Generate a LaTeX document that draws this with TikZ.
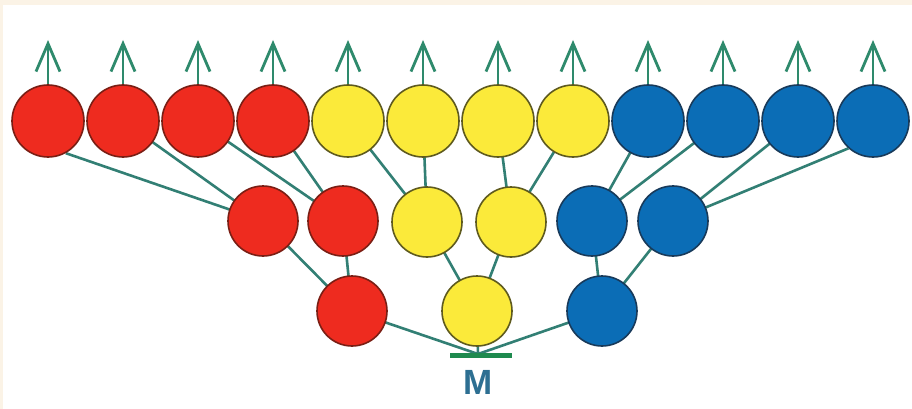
\documentclass[tikz,border=0pt]{standalone}
\usepackage{fontspec}
\setmainfont{Liberation Sans}
\usetikzlibrary{arrows.meta,backgrounds}
\definecolor{cream}{HTML}{FBF3E6}
\definecolor{cred}{HTML}{EE2B1F}
\definecolor{credd}{HTML}{7A1E14}
\definecolor{cyel}{HTML}{FBEA3A}
\definecolor{cyeld}{HTML}{5E5A1E}
\definecolor{cblu}{HTML}{0B6DB6}
\definecolor{cblud}{HTML}{183A5A}
\definecolor{cline}{HTML}{327F74}
\definecolor{carrow}{HTML}{2E8A6C}
\definecolor{cbar}{HTML}{1E8A4E}
\definecolor{cM}{HTML}{2D6F92}
\begin{document}
\begin{tikzpicture}[x=1pt,y=-1pt,
  ball/.style={circle,inner sep=0pt,line width=1.6pt},
  big/.style={minimum size=72pt},
  small/.style={minimum size=70pt},
  redb/.style={ball,fill=cred,draw=credd},
  yelb/.style={ball,fill=cyel,draw=cyeld},
  blub/.style={ball,fill=cblu,draw=cblud},
  link/.style={draw=cline,line width=2.6pt},
  up/.style={draw=carrow,line width=2.8pt,-{Straight Barb[length=28pt,width=24pt]}}
]
\useasboundingbox (0,0) rectangle (912,409);
\begin{scope}[on background layer]
  \fill[cream] (0,0) rectangle (912,409);
  \fill[white] (3,5) rectangle (912,409);
\end{scope}
% top row
\foreach \i/\x/\s in {1/48/redb,2/123/redb,3/198/redb,4/273/redb,
                      5/348/yelb,6/423/yelb,7/498/yelb,8/573/yelb,
                      9/648/blub,10/723/blub,11/798/blub,12/873/blub}{
  \node[\s,big] (t\i) at (\x,121) {};
  \coordinate (a\i) at (\x,40);
  \draw[up] (t\i.north) -- (a\i);
}
% middle row
\node[redb,small] (m1) at (263,221) {};
\node[redb,small] (m2) at (343,221) {};
\node[yelb,small] (m3) at (427,222) {};
\node[yelb,small] (m4) at (511,222) {};
\node[blub,small] (m5) at (592,221) {};
\node[blub,small] (m6) at (673,221) {};
% bottom row
\node[redb,small] (b1) at (352,311) {};
\node[yelb,small] (b2) at (477,311) {};
\node[blub,small] (b3) at (602,311) {};
% M bar and label
\node[fill=cbar,minimum width=62pt,minimum height=5pt,inner sep=0pt] (bar) at (481,355.5) {};
\coordinate (hub) at (478,354);
\node[text=cM,inner sep=0pt,font=\bfseries\fontsize{35}{35}\selectfont] (M) at (478,382.5) {M};
% connectors
\begin{scope}[on background layer]
  \draw[link] (t1.-61) -- (m1.center);
  \draw[link] (t2.center) -- (m1.center);
  \draw[link] (t3.center) -- (m2.center);
  \draw[link] (t4.center) -- (m2.center);
  \draw[link] (t5.center) -- (m3.center);
  \draw[link] (t6.center) -- (m3.center);
  \draw[link] (t7.center) -- (m4.center);
  \draw[link] (t8.center) -- (m4.center);
  \draw[link] (t9.center) -- (m5.center);
  \draw[link] (t10.center) -- (m5.center);
  \draw[link] (t11.center) -- (m6.center);
  \draw[link] (t12.-132) -- (m6.center);
  \draw[link] (m1.center) -- (b1.center);
  \draw[link] (m2.center) -- (b1.center);
  \draw[link] (m3.center) -- (b2.center);
  \draw[link] (m4.center) -- (b2.center);
  \draw[link] (m5.center) -- (b3.center);
  \draw[link] (m6.center) -- (b3.center);
  \draw[link] (b1.center) -- (hub);
  \draw[link] (b2.center) -- (hub);
  \draw[link] (b3.center) -- (hub);
\end{scope}
\end{tikzpicture}
\end{document}
